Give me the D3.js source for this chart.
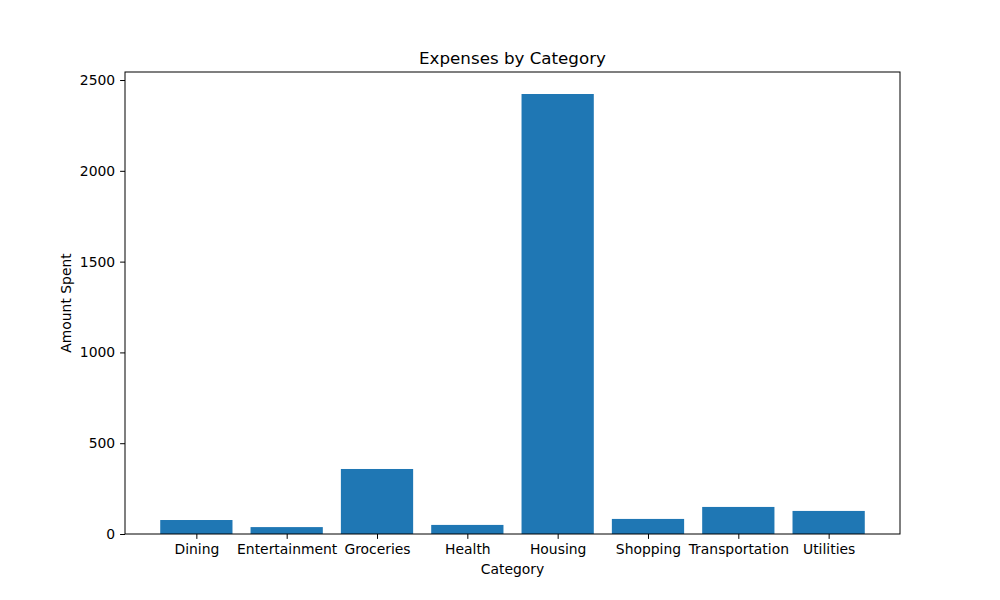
<!DOCTYPE html>
<html>
<head>
<meta charset="utf-8">
<script src="https://cdn.jsdelivr.net/npm/d3@7"></script>
<style>
  body { margin: 0; background: #fff; }
  svg { font-family: "DejaVu Sans", sans-serif; }
</style>
</head>
<body>
<script>
const categories = ["Dining", "Entertainment", "Groceries", "Health", "Housing", "Shopping", "Transportation", "Utilities"];
const amounts = [77, 38, 358, 50, 2423, 83, 149, 127];
const yTicks = [0, 500, 1000, 1500, 2000, 2500];

const W = 1000, H = 600;
const margin = { left: 125, right: 100, top: 72, bottom: 66 };
const svg = d3.select("body").append("svg").attr("width", W).attr("height", H);

const n = categories.length;
const pad = (n - 0.2) * 0.05;
const x = d3.scaleLinear().domain([-0.4 - pad, n - 0.6 + pad]).range([margin.left, W - margin.right]);
const y = d3.scaleLinear().domain([0, d3.max(amounts) * 1.05]).range([H - margin.bottom, margin.top]);

svg.selectAll("rect.bar").data(amounts).enter().append("rect")
  .attr("class", "bar")
  .attr("x", (d, i) => x(i - 0.4))
  .attr("width", (d, i) => x(i + 0.4) - x(i - 0.4))
  .attr("y", d => y(d))
  .attr("height", d => y(0) - y(d))
  .attr("fill", "#1f77b4");

const fs = 13.9;
const xAxis = d3.axisBottom(x).tickValues(d3.range(n)).tickFormat(i => categories[i]).tickSize(4.9).tickPadding(4.9);
const gx = svg.append("g").attr("transform", `translate(0,${H - margin.bottom})`).call(xAxis);
const yAxis = d3.axisLeft(y).tickValues(yTicks).tickFormat(d3.format("d")).tickSize(4.9).tickPadding(4.9);
const gy = svg.append("g").attr("transform", `translate(${margin.left},0)`).call(yAxis);
[gx, gy].forEach(g => {
  g.select(".domain").remove();
  g.selectAll("text").attr("font-size", fs).attr("fill", "#000").attr("font-family", "DejaVu Sans");
  g.selectAll("line").attr("stroke", "#000").attr("stroke-width", 1);
});

// spines
svg.append("rect")
  .attr("x", margin.left).attr("y", margin.top)
  .attr("width", W - margin.left - margin.right)
  .attr("height", H - margin.top - margin.bottom)
  .attr("fill", "none").attr("stroke", "#000").attr("stroke-width", 1);

svg.append("text")
  .attr("x", (margin.left + W - margin.right) / 2).attr("y", margin.top - 8.3)
  .attr("text-anchor", "middle").attr("font-size", 16.7).text("Expenses by Category");

svg.append("text")
  .attr("x", (margin.left + W - margin.right) / 2).attr("y", 574)
  .attr("text-anchor", "middle").attr("font-size", fs).text("Category");

svg.append("text")
  .attr("transform", `translate(71,${(margin.top + H - margin.bottom) / 2}) rotate(-90)`)
  .attr("text-anchor", "middle").attr("font-size", fs).text("Amount Spent");
</script>
</body>
</html>
